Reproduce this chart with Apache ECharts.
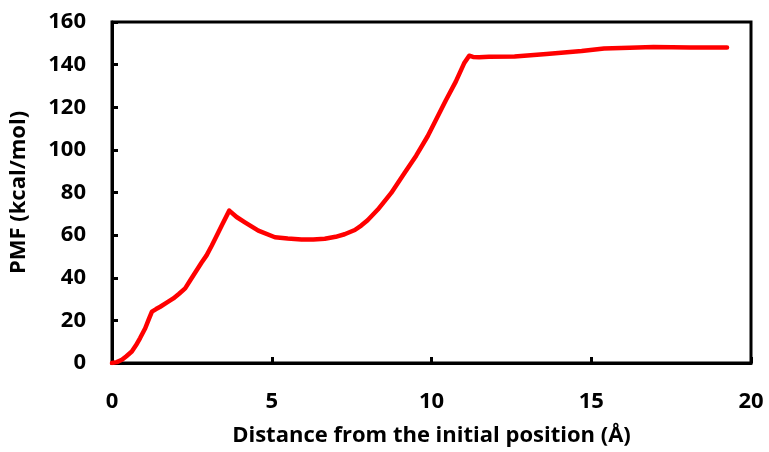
<!DOCTYPE html>
<html>
<head>
<meta charset="utf-8">
<script src="https://cdn.jsdelivr.net/npm/echarts@6/dist/echarts.min.js"></script>
<style>html,body{margin:0;padding:0;background:#fff}#c{width:769px;height:452px}</style>
</head>
<body>
<div id="c"></div>
<script>
var distance = [0, 0.15, 0.31, 0.45, 0.62, 0.75, 0.88, 1.04, 1.15, 1.25, 1.38, 1.51, 1.7, 1.92, 2.1, 2.29, 2.45, 2.65, 2.8, 2.96, 3.12, 3.28, 3.45, 3.67, 3.9, 4.16, 4.58, 5.1, 5.5, 5.93, 6.3, 6.66, 7.0, 7.28, 7.6, 7.8, 8.0, 8.32, 8.74, 9.15, 9.52, 9.88, 10.09, 10.45, 10.76, 11.02, 11.18, 11.3, 11.49, 11.8, 12.6, 13.6, 14.7, 15.4, 16.2, 16.95, 18.1, 19.25];
var pmf = [0, 0.4, 1.5, 3.2, 5.4, 8.3, 11.7, 16.3, 20.5, 24.1, 25.3, 26.4, 28.2, 30.3, 32.5, 35, 38.8, 43.5, 47, 50.5, 55, 59.8, 65, 71.5, 68.5, 66, 62.1, 59, 58.4, 58, 57.9, 58.3, 59.2, 60.4, 62.4, 64.5, 67, 72, 79.8, 89, 97.3, 106.4, 112.6, 123.3, 132, 140.6, 144.2, 143.6, 143.5, 143.7, 143.8, 145, 146.4, 147.6, 147.9, 148.3, 148, 148];
var xTicks = [0, 5, 10, 15, 20];
var yTicks = [0, 20, 40, 60, 80, 100, 120, 140, 160];

var pts = distance.map(function (d, i) { return [d, pmf[i]]; });
var FONT = '"Open Sans", "Liberation Sans", sans-serif';
var chart = echarts.init(document.getElementById('c'));
chart.setOption({
  animation: false,
  backgroundColor: '#fff',
  grid: { left: 110, right: 18, top: 22, bottom: 87, show: true, borderColor: '#000', borderWidth: 3, backgroundColor: 'transparent' },
  xAxis: {
    type: 'value', min: xTicks[0], max: xTicks[xTicks.length - 1], interval: 5,
    name: 'Distance from the initial position (Å)', nameLocation: 'middle', nameGap: 62,
    nameTextStyle: { fontFamily: FONT, fontWeight: 'bold', fontSize: 22, color: '#000' },
    axisLine: { show: true, lineStyle: { color: '#000', width: 3 } },
    axisTick: { show: true, inside: true, length: 6, lineStyle: { color: '#000', width: 3 } },
    axisLabel: { fontFamily: FONT, fontWeight: 'bold', fontSize: 22, color: '#000', margin: 28 },
    splitLine: { show: false }
  },
  yAxis: {
    type: 'value', min: yTicks[0], max: yTicks[yTicks.length - 1], interval: 20,
    name: 'PMF (kcal/mol)', nameLocation: 'middle', nameGap: 82, nameRotate: 90,
    nameTextStyle: { fontFamily: FONT, fontWeight: 'bold', fontSize: 22, color: '#000' },
    axisLine: { show: true, lineStyle: { color: '#000', width: 3 } },
    axisTick: { show: true, inside: true, length: 6, lineStyle: { color: '#000', width: 3 } },
    axisLabel: { fontFamily: FONT, fontWeight: 'bold', fontSize: 22, color: '#000', margin: 26 },
    splitLine: { show: false }
  },
  series: [{
    type: 'line', data: pts, showSymbol: false, symbol: 'none', smooth: false,
    lineStyle: { color: '#ff0000', width: 4.5, join: 'round', cap: 'round' }
  }]
});
</script>
</body>
</html>
